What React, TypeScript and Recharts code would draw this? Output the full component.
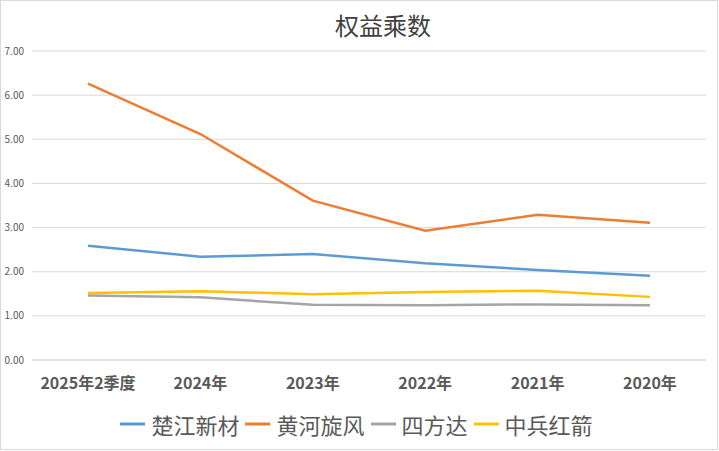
import React from 'react';
import { LineChart, Line, XAxis, YAxis, CartesianGrid } from 'recharts';

const categories = ['2025年2季度', '2024年', '2023年', '2022年', '2021年', '2020年'];
const chujiang = [2.59, 2.34, 2.4, 2.19, 2.04, 1.91];
const huanghe = [6.26, 5.12, 3.61, 2.93, 3.29, 3.11];
const sifangda = [1.46, 1.42, 1.25, 1.24, 1.26, 1.24];
const zhongbing = [1.52, 1.56, 1.49, 1.54, 1.57, 1.43];
const yTicks = [0, 1, 2, 3, 4, 5, 6, 7];

const seriesNames = ['楚江新材', '黄河旋风', '四方达', '中兵红箭'];
const seriesColors = ['#5B9BD5', '#ED7D31', '#A5A5A5', '#FFC000'];
const seriesKeys = ['s0', 's1', 's2', 's3'];

const data = categories.map((c, i) => ({
  name: c,
  s0: chujiang[i],
  s1: huanghe[i],
  s2: sifangda[i],
  s3: zhongbing[i],
}));

const FONT = '"Noto Sans CJK SC", "Noto Sans", sans-serif';

const LegendBlock = () => (
  <div style={{ position: 'absolute', left: 0, top: 408, width: 719, display: 'flex', justifyContent: 'center', alignItems: 'center', fontFamily: FONT, fontSize: 22, color: '#595959' }}>
    {seriesNames.map((n, i) => (
      <div key={n} style={{ display: 'flex', alignItems: 'center', marginRight: 6 }}>
        <svg width={25} height={6} style={{ marginRight: 6 }}>
          <line x1={0} y1={3} x2={25} y2={3} stroke={seriesColors[i]} strokeWidth={3} />
        </svg>
        <span>{n}</span>
      </div>
    ))}
  </div>
);

const XTick = (props: any) => {
  const { x, y, payload } = props;
  return (
    <text x={x} y={y + 21} textAnchor="middle" fontFamily={FONT} fontWeight="bold" fontSize={16} fill="#595959">
      {payload.value}
    </text>
  );
};

export default function App() {
  return (
    <div style={{ position: 'absolute', left: 0, top: 0, width: 719, height: 451, background: '#fff' }}>
      <div style={{ position: 'absolute', left: 0, top: 0, width: 716, height: 448, border: '1px solid #d9d9d9' }} />
      <div style={{ position: 'absolute', left: 0, top: 7, width: 766, textAlign: 'center', fontFamily: FONT, fontSize: 24, color: '#404040' }}>
        权益乘数
      </div>
      <div style={{ position: 'absolute', left: 0, top: 0 }}>
        <LineChart width={719} height={451} data={data} margin={{ top: 51, right: 13, bottom: 61, left: 0 }}>
          <CartesianGrid horizontal={true} vertical={false} stroke="#d9d9d9" />
          <XAxis dataKey="name" axisLine={{ stroke: '#d9d9d9' }} tickLine={false} tick={<XTick />} interval={0} height={30} padding={{ left: 56, right: 56 }} />
          <YAxis
            domain={[0, 7]}
            ticks={yTicks}
            width={32}
            axisLine={false}
            tickLine={false}
            tick={{ fontSize: 10, fill: '#595959', fontFamily: FONT }}
            tickFormatter={(v: number) => v.toFixed(2)}
          />
          {seriesKeys.map((k, i) => (
            <Line key={k} type="linear" dataKey={k} name={seriesNames[i]} stroke={seriesColors[i]} strokeWidth={2.5} dot={false} isAnimationActive={false} />
          ))}
        </LineChart>
      </div>
      <LegendBlock />
    </div>
  );
}
